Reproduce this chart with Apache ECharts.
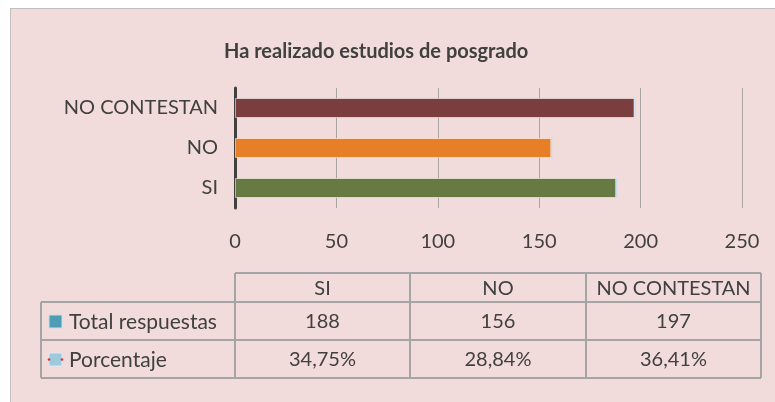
<!DOCTYPE html>
<html>
<head>
<meta charset="utf-8">
<script src="https://cdn.jsdelivr.net/npm/echarts@6/dist/echarts.min.js"></script>
<style>
  body { margin: 0; background: #ffffff; }
  #panel { position: absolute; left: 10px; top: 8px; width: 800px; height: 420px; background: #f2dcdb; border: 1px solid #bfbfbf; }
  #main { position: absolute; left: 0; top: 0; width: 775px; height: 402px; }
</style>
</head>
<body>
<div id="panel"></div>
<div id="main"></div>
<script>
// datos del grafico
var categories = ['SI', 'NO', 'NO CONTESTAN'];
var totalRespuestas = [188, 156, 197];
var porcentaje = [34.75, 28.84, 36.41];
var porcentajeLabels = ['34,75%', '28,84%', '36,41%'];
var seriesNames = ['Total respuestas', 'Porcentaje'];
var barColors = ['#687a44', '#e77f28', '#7a3e3e'];
var xMin = 0, xMax = 250, xStep = 50;

var txt = '#404040';
var font = 'Lato';
var fs = 20;
var chart = echarts.init(document.getElementById('main'));

// tabla de datos debajo del grafico
var colX = [235, 410, 586, 761];
var labX = 41;
var rowY = [273, 302, 340, 378];
var lineStyle = { stroke: '#a5a5a5', lineWidth: 2 };
var g = [];
function line(x1, y1, x2, y2) {
  g.push({ type: 'line', shape: { x1: x1, y1: y1, x2: x2, y2: y2 }, style: lineStyle, z: 10 });
}
function text(t, x, y, align, size) {
  g.push({ type: 'text', z: 11, style: { text: t, x: x, y: y, fill: txt, fontSize: size || fs, fontFamily: font, align: align || 'center', verticalAlign: 'middle' } });
}
line(colX[0], rowY[0], colX[3], rowY[0]);
line(labX, rowY[1], colX[3], rowY[1]);
line(labX, rowY[2], colX[3], rowY[2]);
line(labX, rowY[3], colX[3], rowY[3]);
line(labX, rowY[1], labX, rowY[3]);
colX.forEach(function (x) { line(x, rowY[0], x, rowY[3]); });
categories.forEach(function (c, i) {
  var cx = (colX[i] + colX[i + 1]) / 2;
  text(c, cx, (rowY[0] + rowY[1]) / 2 + 1);
  text(String(totalRespuestas[i]), cx, (rowY[1] + rowY[2]) / 2 + 1);
  text(porcentajeLabels[i], cx, (rowY[2] + rowY[3]) / 2 + 1);
});
text(seriesNames[0], 69, (rowY[1] + rowY[2]) / 2 + 1, 'left', 21);
text(seriesNames[1], 69, (rowY[2] + rowY[3]) / 2 + 1, 'left', 21);
// claves de leyenda
g.push({ type: 'rect', z: 11, shape: { x: 49, y: 315, width: 13, height: 13 }, style: { fill: '#4f9db4', stroke: '#c9dfe6', lineWidth: 1 } });
g.push({ type: 'rect', z: 11, shape: { x: 49, y: 353, width: 13, height: 13 }, style: { fill: '#9fc9dc', stroke: '#dbe8f0', lineWidth: 1 } });
g.push({ type: 'circle', z: 12, shape: { cx: 49, cy: 359.5, r: 1.3 }, style: { fill: '#e03030' } });
g.push({ type: 'circle', z: 12, shape: { cx: 62, cy: 359.5, r: 1.3 }, style: { fill: '#e03030' } });

var option = {
  animation: false,
  title: {
    text: 'Ha realizado estudios de posgrado',
    left: 219, top: 37,
    textStyle: { fontFamily: font, fontSize: 20, fontWeight: 'bold', color: txt }
  },
  grid: { left: 235, right: 33, top: 88, height: 120 },
  xAxis: {
    type: 'value', min: xMin, max: xMax, interval: xStep,
    axisLine: { show: false }, axisTick: { show: false },
    axisLabel: { color: txt, fontSize: fs, fontFamily: font, margin: 24 },
    splitLine: { lineStyle: { color: '#a9a4a4', width: 1 } }
  },
  yAxis: {
    type: 'category', data: categories,
    axisLine: { lineStyle: { color: '#404040', width: 3 } },
    axisTick: { show: false },
    axisLabel: { color: txt, fontSize: fs, fontFamily: font, margin: 17 }
  },
  series: [
    {
      name: seriesNames[0], type: 'bar', stack: 'total', barWidth: 20,
      data: totalRespuestas.map(function (v, i) {
        return { value: v, itemStyle: { color: barColors[i] } };
      }),
      itemStyle: { borderColor: 'rgba(255,255,255,0.55)', borderWidth: 1 }
    },
    {
      name: seriesNames[1], type: 'bar', stack: 'total', barWidth: 20,
      data: porcentaje.map(function (v) { return v / 100; }),
      itemStyle: { color: '#bcd6ee', borderColor: '#c8dcf0', borderWidth: 1.5 }
    }
  ],
  graphic: g
};
chart.setOption(option);
</script>
</body>
</html>
